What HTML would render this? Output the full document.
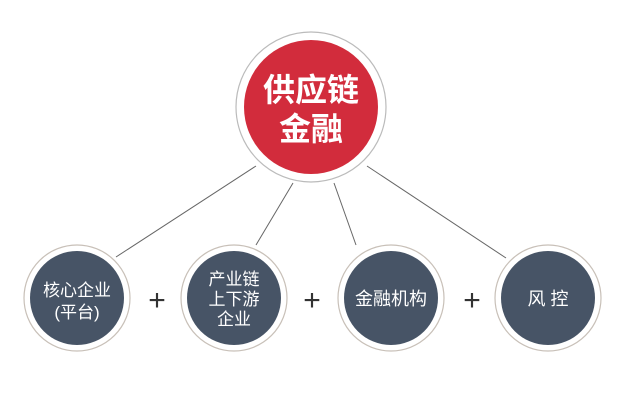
<!DOCTYPE html>
<html><head><meta charset="utf-8"><style>
body{margin:0;background:#fff}
svg text{font-family:"Liberation Sans","Noto Sans CJK SC",sans-serif}
</style></head><body>
<svg width="640" height="400" viewBox="0 0 640 400">
<rect width="640" height="400" fill="#fff"/>
<g stroke="#666" stroke-width="1">
<line x1="256" y1="166" x2="116" y2="257"/>
<line x1="293" y1="183" x2="256" y2="245"/>
<line x1="334" y1="183" x2="356" y2="245"/>
<line x1="367" y1="166" x2="506" y2="258"/>
</g>
<circle cx="311" cy="107" r="75" fill="#fff" stroke="#bbb" stroke-width="1.2"/>
<circle cx="311" cy="107" r="67" fill="#d22c3c"/>
<text x="311" y="101" font-size="32" font-weight="bold" fill="#fff" text-anchor="middle">供应链</text>
<text x="311" y="140" font-size="32" font-weight="bold" fill="#fff" text-anchor="middle">金融</text>
<g fill="#fff" stroke="#c8c0b8" stroke-width="1.2">
<circle cx="77" cy="298" r="53"/><circle cx="234" cy="298" r="53"/>
<circle cx="391" cy="298" r="53"/><circle cx="548" cy="298" r="53"/>
</g>
<g fill="#475466">
<circle cx="77" cy="298" r="47"/><circle cx="234" cy="298" r="47"/>
<circle cx="391" cy="298" r="47"/><circle cx="548" cy="298" r="47"/>
</g>
<g fill="#fff" font-size="17" text-anchor="middle">
<text x="77" y="296">核心企业</text>
<text x="77" y="318">(平台)</text>
<text x="234" y="285">产业链</text>
<text x="234" y="305">上下游</text>
<text x="234" y="325">企业</text>
<text x="391" y="305" font-size="18">金融机构</text>
<text x="548" y="305" font-size="18">风 控</text>
</g>
<g fill="#333" font-size="30" text-anchor="middle">
<text x="157" y="310">+</text><text x="312" y="310">+</text><text x="472" y="310">+</text>
</g>
</svg>
</body></html>
